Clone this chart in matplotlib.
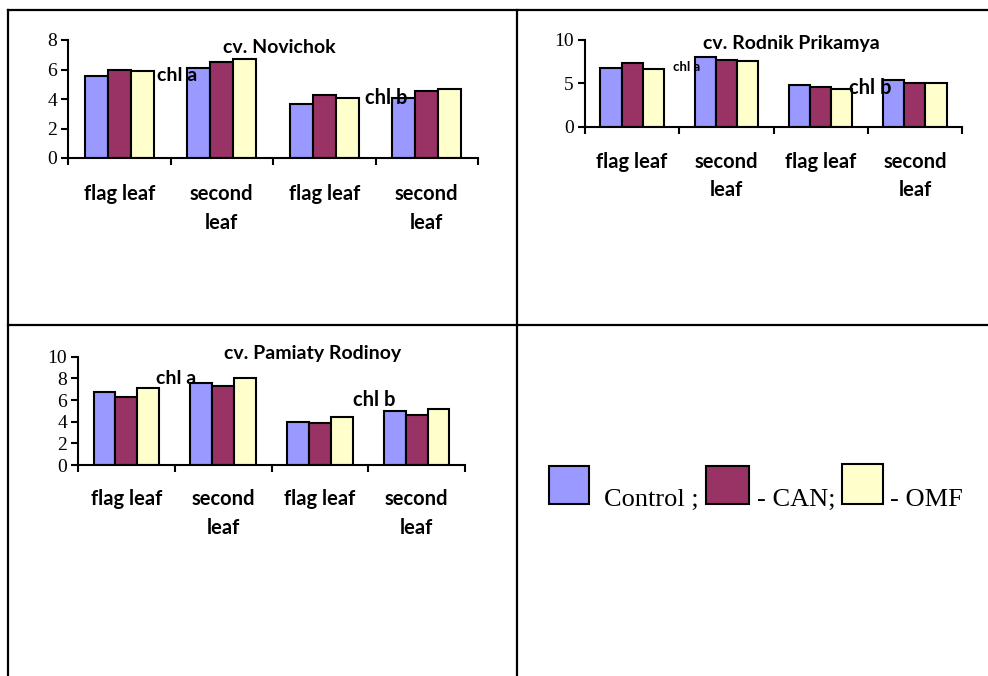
import numpy as np
import matplotlib
matplotlib.use('Agg')
import matplotlib.pyplot as plt
from matplotlib.lines import Line2D
from matplotlib.patches import Rectangle

categories = ['flag leaf', 'second\nleaf', 'flag leaf', 'second\nleaf']
series = ['Control', 'CAN', 'OMF']
colors = ['#9999FF', '#993366', '#FFFFCC']

novichok_control = [5.55, 6.1, 3.65, 4.1]
novichok_can = [6.0, 6.5, 4.3, 4.55]
novichok_omf = [5.9, 6.7, 4.1, 4.7]

rodnik_control = [6.75, 8.05, 4.8, 5.4]
rodnik_can = [7.3, 7.65, 4.6, 5.0]
rodnik_omf = [6.6, 7.55, 4.35, 5.0]

pamiaty_control = [6.7, 7.6, 4.0, 4.95]
pamiaty_can = [6.3, 7.3, 3.85, 4.6]
pamiaty_omf = [7.1, 8.05, 4.45, 5.15]

W, H = 988, 676
fig = plt.figure(figsize=(W / 100, H / 100), dpi=100)

SERIF = 'Liberation Serif'
SANS = 'Lato'


def px_rect(x0, x1, ytop, ybot):
    return [x0 / W, 1 - ybot / H, (x1 - x0) / W, (ybot - ytop) / H]


def chart(rect, vals, ymax, ystep, title, title_xy, chla, chlb, chla_size=14, label_pad=19):
    ax = fig.add_axes(px_rect(*rect))
    x = np.arange(len(categories)) + 0.5
    bw = 0.225
    for i, (v, c) in enumerate(zip(vals, colors)):
        ax.bar(x + (i - 1) * bw, v, bw, color=c, edgecolor='black', linewidth=1.5, zorder=2)
    ax.set_xlim(0, len(categories))
    ax.set_ylim(0, ymax)
    ax.set_yticks(np.arange(0, ymax + 0.1, ystep))
    ax.set_yticklabels([f'{int(t)}' for t in np.arange(0, ymax + 0.1, ystep)],
                       fontfamily=SERIF, fontsize=14)
    ax.set_xticks(np.arange(0, len(categories) + 1))
    ax.set_xticklabels([])
    ax.set_xticks(x, minor=True)
    ax.set_xticklabels(categories, minor=True, fontfamily=SANS, fontweight='bold',
                       fontsize=14.5, linespacing=1.55, va='top')
    ax.tick_params(axis='x', which='minor', length=0, pad=label_pad)
    ax.tick_params(axis='x', which='major', direction='out', length=5, width=1.5)
    ax.tick_params(axis='y', direction='out', length=5, width=1.5, pad=3)
    for s in ['top', 'right']:
        ax.spines[s].set_visible(False)
    for s in ['left', 'bottom']:
        ax.spines[s].set_linewidth(1.5)
    ax.patch.set_alpha(0)
    ax.text(title_xy[0], title_xy[1], title, ha='center', va='center',
            fontfamily=SANS, fontweight='bold', fontsize=14, zorder=5)
    ax.text(chla[0], chla[1], 'chl a', ha='left', va='center',
            fontfamily=SANS, fontweight='bold', fontsize=chla_size, zorder=5)
    ax.text(chlb[0], chlb[1], 'chl b', ha='left', va='center',
            fontfamily=SANS, fontweight='bold', fontsize=14.5, zorder=5)
    return ax


chart((68, 478, 40, 158), [novichok_control, novichok_can, novichok_omf], 8, 2,
      'cv. Novichok', (2.06, 7.5), (0.87, 5.6), (2.9, 4.1), label_pad=19)
chart((585, 962, 40, 126.7), [rodnik_control, rodnik_can, rodnik_omf], 10, 5,
      'cv. Rodnik Prikamya', (2.19, 9.6), (0.93, 6.9), (2.8, 4.45),
      chla_size=9.5, label_pad=18)
chart((78, 465, 356.7, 465), [pamiaty_control, pamiaty_can, pamiaty_omf], 10, 2,
      'cv. Pamiaty Rodinoy', (2.42, 10.25), (0.81, 8.0), (2.84, 6.0), label_pad=17.6)

# table grid
lw = 1.6
for (xs, ys) in [((8, 988), (10, 10)), ((8, 988), (325, 325)),
                 ((8, 8), (10, 676)), ((517, 517), (10, 676))]:
    fig.add_artist(Line2D([xs[0] / W, xs[1] / W], [1 - ys[0] / H, 1 - ys[1] / H],
                          color='black', linewidth=lw, transform=fig.transFigure))

# legend row
boxes = [(549, 589, 466, 504), (706, 749, 466, 504), (842, 883, 464, 504)]
texts = [(604, 'Control ;'), (757, '- CAN;'), (890, '- OMF')]
for (x0, x1, y0, y1), c in zip(boxes, colors):
    fig.add_artist(Rectangle((x0 / W, 1 - y1 / H), (x1 - x0) / W, (y1 - y0) / H,
                             facecolor=c, edgecolor='black', linewidth=1.5,
                             transform=fig.transFigure))
for tx, t in texts:
    fig.text(tx / W, 1 - 506 / H, t, ha='left', va='baseline',
             fontfamily=SERIF, fontsize=19)

fig.savefig('out.png', dpi=100)
